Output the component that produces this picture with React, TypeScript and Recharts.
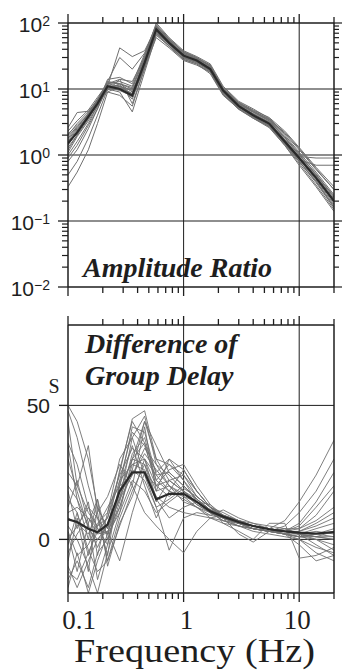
import { LineChart, Line, XAxis, YAxis, ReferenceLine } from "recharts";

// frequency samples (Hz)
const FREQ = [0.1, 0.12, 0.15, 0.18, 0.22, 0.28, 0.36, 0.46, 0.58, 0.75, 1.0, 1.3, 1.7, 2.2, 3, 4, 5.5, 7.5, 10, 14, 20];

// amplitude ratio: average + individual events
const AMP_MEAN = [1.5, 2.2, 3.8, 6, 11, 10, 8, 25, 80, 50, 32, 27, 20, 9.5, 5.5, 4, 3, 1.6, 0.9, 0.45, 0.2];
const AMP_RUNS = [
  [0.33, 0.55, 1.2, 3.0, 9, 11, 7, 22, 75, 48, 30, 26, 19, 8.5, 5, 3.8, 2.8, 1.5, 0.8, 0.4, 0.17],
  [0.5, 0.8, 1.8, 4, 10, 12, 9, 28, 90, 55, 34, 29, 22, 10, 6, 4.5, 3.3, 1.8, 1.0, 0.5, 0.22],
  [0.8, 1.2, 2.5, 5, 12, 14, 6, 20, 70, 45, 28, 24, 17, 8, 5, 3.6, 2.6, 1.4, 0.75, 0.35, 0.15],
  [1.0, 1.6, 3.0, 5.5, 11, 42, 31, 38, 85, 52, 33, 27, 21, 9.5, 5.8, 4.2, 3.2, 1.7, 0.95, 0.9, 0.9],
  [1.2, 2.0, 4.4, 6.5, 13, 30, 20, 35, 95, 58, 36, 30, 23, 10, 6.2, 4.6, 3.5, 2.0, 1.1, 0.55, 0.25],
  [1.4, 2.3, 3.6, 6, 10, 9, 4.5, 18, 65, 45, 29, 25, 19, 8.8, 5.3, 3.9, 2.9, 1.5, 0.85, 0.7, 0.7],
  [1.6, 2.4, 4, 6.5, 12, 11, 8.5, 26, 85, 50, 31, 28, 20, 9, 5.5, 4.2, 3.1, 1.7, 0.9, 0.45, 0.19],
  [1.8, 2.6, 4.2, 7, 13, 12, 10, 30, 100, 60, 38, 31, 24, 11, 6.5, 5, 3.6, 2.1, 1.2, 0.6, 0.3],
  [2.0, 3.0, 4.5, 7, 11, 10, 7.5, 24, 78, 48, 30, 26, 20, 9, 5.4, 4, 3, 1.6, 0.85, 0.42, 0.18],
  [2.3, 3.3, 4.8, 7.5, 12, 13, 11, 32, 88, 54, 35, 28, 21, 10, 6, 4.5, 3.4, 1.9, 1.05, 0.5, 0.24],
  [2.6, 4.4, 4.6, 6.5, 9, 8, 5.5, 21, 60, 42, 27, 23, 18, 8.2, 4.9, 3.6, 2.7, 1.4, 0.7, 0.33, 0.14],
  [1.3, 2.0, 3.5, 6, 14, 15, 12, 34, 92, 56, 37, 30, 22, 10.5, 6.3, 4.8, 3.7, 2.3, 1.3, 0.65, 0.33],
  [1.5, 2.1, 3.7, 5.8, 10.5, 9.5, 7.8, 24, 82, 49, 31, 26, 19.5, 8.8, 5.3, 3.9, 2.9, 1.55, 0.88, 0.44, 0.2],
  [1.7, 2.5, 3.9, 6.2, 11.5, 10.5, 8.5, 27, 76, 51, 33, 28, 21, 9.4, 5.7, 4.2, 3.1, 1.7, 0.95, 0.48, 0.21],
  [1.1, 1.9, 3.3, 5.5, 10, 11, 9.5, 23, 72, 47, 30, 25, 18.5, 8.3, 5.1, 3.7, 2.8, 1.45, 0.8, 0.4, 0.16],
  [2.1, 2.8, 4.2, 6.8, 12.5, 12, 10.5, 29, 86, 53, 34, 29, 22, 9.8, 5.9, 4.4, 3.3, 1.85, 1.0, 0.52, 0.23],
  [1.9, 2.7, 4.1, 6.6, 9.5, 14, 13, 30, 88, 57, 36, 29, 23, 10.2, 6.1, 4.7, 3.5, 2.2, 1.25, 0.62, 0.3],
  [0.9, 1.4, 2.8, 5, 10.5, 11.5, 8, 21, 68, 44, 28, 24, 18, 8.4, 5.0, 3.7, 2.7, 1.5, 0.8, 0.38, 0.16],
];

// difference of group delay (s): average + individual events
const GD_MEAN = [7.5, 6.5, 4, 2.7, 5.5, 18, 25, 25, 15, 17, 17, 14, 10.5, 8.5, 6.5, 5, 3.8, 3, 2.5, 2.2, 2.7];
const GD_RUNS = [
  [48, 38, 20, 8, 2, 10, 30, 44, 30, 22, 18, 14, 10, 8, 6, 5, 4, 3, 2, 2, 3],
  [50, 44, 30, 12, 4, 15, 38, 46, 28, 20, 17, 13, 10, 8, 6, 5, 4, 7, 14, 24, 37],
  [36, 28, 12, 4, -2, 20, 42, 40, 24, 25, 20, 15, 11, 9, 7, 5, 4, 2, 1, 1, 1],
  [-12, -15, -5, 3, 8, 25, 45, 48, 30, 28, 22, 16, 12, 9, 6, 4, 3, 5, 10, 18, 30],
  [-15, -8, -18, -5, 0, 12, 28, 30, 20, 26, 28, 20, 13, 8, 5, 4, 3, 2, 0, -5, -8],
  [5, 0, -10, -20, -5, 10, 22, 18, 10, 14, 18, 15, 11, 8, 6, 5, 4, 3, 6, 14, 25],
  [10, 12, 8, 2, 3, -8, 10, 25, 20, 22, 24, 18, 12, 6, 3, 0, 6, 6, -7, -6, -3],
  [20, 15, 5, -3, 6, 18, 30, 36, 25, 30, 26, 18, 12, 9, 7, 6, 5, 4, 4, 9, 18],
  [0, 5, 12, 8, -6, 22, 40, 35, 22, 18, 15, 12, 9, 11, 8, 6, 4, 2, -2, -8, -6],
  [8, 6, 2, 10, 16, 28, 20, 10, 5, 0, -5, 3, 8, 9, 7, 5, 4, 3, 2, 3, 2],
  [3, -6, -2, 6, 10, 24, 34, 30, 15, 8, 12, 14, 10, 8, 6, 4, 3, 3, 4, 7, 12],
  [15, 10, -4, -12, -8, 5, 18, 28, 18, 20, 16, 12, 10, 7, 5, 4, 3, 2, 1, 0, -2],
  [-5, 2, 8, 4, 2, 16, 26, 22, 12, 15, 19, 16, 12, 8, 2, -1, 3, 4, 2, 1, 0],
  [25, 20, 10, 5, 8, 22, 28, 26, 16, 12, 10, 9, 8, 7, 6, 5, 4, 3, 3, 5, 8],
  [-10, -18, -8, 0, 5, 15, 24, 32, 26, 20, 14, 12, 8, 6, 5, 3, 2, 1, 0, -3, -5],
  [30, 18, 4, 0, 3, 12, 26, 44, 35, 25, 20, 15, 11, 8, 6, 4, 3, 2, 2, 1, 0],
  [44, 20, 35, 10, -8, 8, 20, 42, 18, 30, 22, 14, 10, 7, 5, 4, 3, 2, 1, 2, 4],
  [-18, -5, -20, -8, 2, 20, 35, 20, 8, 18, 26, 18, 12, 10, 7, 5, 3, 2, 3, 6, 10],
  [12, 22, 6, 15, 0, 14, 32, 38, 22, 28, 24, 16, 12, 8, 6, 5, 4, 3, 2, 0, -4],
  [-8, 8, -12, 12, 4, 26, 44, 36, 20, 16, 20, 15, 11, 9, 6, 4, 3, 4, 2, -2, -6],
  [35, 15, 0, 15, -10, 6, 16, 30, 24, 18, 16, 14, 13, 9, 7, 5, 4, 3, 5, 12, 20],
  [2, -12, 6, -15, -2, 18, 30, 28, 14, 22, 18, 13, 10, 8, 6, 5, 4, 3, 2, 1, 3],
  [18, 4, 14, -6, 10, 30, 38, 24, 12, -4, 8, 10, 9, 8, 6, 4, 3, 2, 1, 2, 1],
  [-2, 10, -6, 5, 12, 20, 24, 34, 28, 24, 18, 14, 11, 8, 6, 5, 4, 3, 2, 4, 6],
];

const X_TICKS = [0.1, 0.2, 0.3, 0.4, 0.5, 0.6, 0.7, 0.8, 0.9, 1, 2, 3, 4, 5, 6, 7, 8, 9, 10, 20];
const X_LABELS: Record<number, string> = { 0.1: "0.1", 1: "1", 10: "10" };
const AMP_DECADES = [0.01, 0.1, 1, 10, 100];
const AMP_EXP: Record<number, string> = { 0.01: "\u22122", 0.1: "\u22121", 1: "0", 10: "1", 100: "2" };
const GD_TICKS = [0, 50];

const INK = "#1e1e1e";
const GRAY = "#707070";
const SERIF = "'Liberation Serif', 'Times New Roman', serif";
const SANS = "'Liberation Sans', Arial, sans-serif";

const ampTicks: number[] = [];
AMP_DECADES.slice(0, -1).forEach((d) => {
  for (let k = 1; k <= 9; k++) ampTicks.push(+(d * k).toPrecision(3));
});
ampTicks.push(100);

const isDecade = (v: number) => Math.abs(Math.log10(v) - Math.round(Math.log10(v))) < 1e-6;

function buildRows(mean: number[], runs: number[][]) {
  return FREQ.map((f, i) => {
    const row: Record<string, number> = { f, mean: mean[i] };
    runs.forEach((r, j) => {
      row[`r${j}`] = r[i];
    });
    return row;
  });
}

const ampRows = buildRows(AMP_MEAN, AMP_RUNS);
const gdRows = buildRows(GD_MEAN, GD_RUNS);

// tick renderers (tickSize 0 so x/y sit on the frame)
const xMajor = (v: number) => v === 0.1 || v === 1 || v === 10;

function TopTick(props: any) {
  const { x, y, payload } = props;
  const l = xMajor(payload.value) ? 9 : 6;
  return <line x1={x} x2={x} y1={y} y2={y - l} stroke={INK} strokeWidth={1.3} />;
}

function BottomTick(props: any) {
  const { x, y, payload } = props;
  const l = xMajor(payload.value) ? 9 : 6;
  return <line x1={x} x2={x} y1={y} y2={y + l} stroke={INK} strokeWidth={1.3} />;
}

const LABEL_DX: Record<number, number> = { 0.1: 11, 1: 3, 10: -2 };

function BottomTickLabeled(props: any) {
  const { x, y, payload } = props;
  const v = payload.value;
  const l = xMajor(v) ? 9 : 6;
  return (
    <g>
      <line x1={x} x2={x} y1={y} y2={y + l} stroke={INK} strokeWidth={1.3} />
      {X_LABELS[v] && (
        <text x={x + (LABEL_DX[v] ?? 0)} y={y + 36} textAnchor="middle" fontFamily={SERIF} fontSize={27} fill={INK}>
          {X_LABELS[v]}
        </text>
      )}
    </g>
  );
}

function AmpLeftTick(props: any) {
  const { x, y, payload } = props;
  const v = payload.value;
  if (!isDecade(v)) return <line x1={x} x2={x - 6} y1={y} y2={y} stroke={INK} strokeWidth={1.2} />;
  return (
    <g>
      <line x1={x} x2={x - 10} y1={y} y2={y} stroke={INK} strokeWidth={1.3} />
      <text x={50} y={y + 9} textAnchor="end" fontFamily={SANS} fontSize={21} fill={INK}>
        10
        <tspan dy={-6} fontSize={14}>{AMP_EXP[+v.toPrecision(3)]}</tspan>
      </text>
    </g>
  );
}

function AmpRightTick(props: any) {
  const { x, y, payload } = props;
  const l = isDecade(payload.value) ? 8 : 5;
  return <line x1={x} x2={x + l} y1={y} y2={y} stroke={INK} strokeWidth={1.2} />;
}

function GdLeftTick(props: any) {
  const { x, y, payload } = props;
  return (
    <g>
      <line x1={x} x2={x - 9} y1={y} y2={y} stroke={INK} strokeWidth={1.3} />
      <text x={50} y={y + 8} textAnchor="end" fontFamily={SANS} fontSize={21} fill={INK}>
        {payload.value}
      </text>
    </g>
  );
}

const frame = { stroke: INK, strokeWidth: 1.5 };

export default function App() {
  const ampLines = AMP_RUNS.map((_, j) => (
    <Line key={`a${j}`} xAxisId="b" yAxisId="l" dataKey={`r${j}`} stroke={GRAY} strokeWidth={1} dot={false} isAnimationActive={false} />
  ));
  const gdLines = GD_RUNS.map((_, j) => (
    <Line key={`g${j}`} xAxisId="b" yAxisId="l" dataKey={`r${j}`} stroke={GRAY} strokeWidth={0.9} dot={false} isAnimationActive={false} />
  ));

  return (
    <div style={{ position: "absolute", left: 0, top: 0, width: 342, height: 671, background: "#fff" }}>
      <LineChart width={342} height={310} data={ampRows} margin={{ top: 0, right: 0, bottom: 0, left: 0 }}>
        <XAxis xAxisId="t" orientation="top" dataKey="f" type="number" scale="log" domain={[0.1, 20]} allowDataOverflow
          ticks={X_TICKS} interval={0} height={23} tickSize={0} tickMargin={0} tickLine={false} axisLine={frame} tick={<TopTick />} />
        <XAxis xAxisId="b" orientation="bottom" dataKey="f" type="number" scale="log" domain={[0.1, 20]} allowDataOverflow
          ticks={X_TICKS} interval={0} height={23} tickSize={0} tickMargin={0} tickLine={false} axisLine={frame} tick={<BottomTick />} />
        <YAxis yAxisId="l" orientation="left" type="number" scale="log" domain={[0.01, 100]} allowDataOverflow
          ticks={ampTicks} interval={0} width={68} tickSize={0} tickMargin={0} tickLine={false} axisLine={frame} tick={<AmpLeftTick />} />
        <YAxis yAxisId="r" orientation="right" type="number" scale="log" domain={[0.01, 100]} allowDataOverflow
          ticks={ampTicks} interval={0} width={8} tickSize={0} tickMargin={0} tickLine={false} axisLine={frame} tick={<AmpRightTick />} />
        {[1, 10].map((v) => (
          <ReferenceLine key={`vx${v}`} xAxisId="b" yAxisId="l" x={v} stroke={INK} strokeWidth={1} />
        ))}
        {[0.1, 1, 10].map((v) => (
          <ReferenceLine key={`hy${v}`} xAxisId="b" yAxisId="l" y={v} stroke={INK} strokeWidth={1.2} />
        ))}
        {ampLines}
        <Line xAxisId="t" yAxisId="r" dataKey="mean" stroke="none" dot={false} isAnimationActive={false} />
        <Line xAxisId="b" yAxisId="l" dataKey="mean" stroke="#2a2a2a" strokeWidth={2.2} dot={false} isAnimationActive={false} />
      </LineChart>

      <LineChart width={342} height={361} data={gdRows} margin={{ top: 0, right: 0, bottom: 0, left: 0 }}>
        <XAxis xAxisId="t" orientation="top" dataKey="f" type="number" scale="log" domain={[0.1, 20]} allowDataOverflow
          ticks={X_TICKS} interval={0} height={15} tickSize={0} tickMargin={0} tickLine={false} axisLine={frame} tick={<TopTick />} />
        <XAxis xAxisId="b" orientation="bottom" dataKey="f" type="number" scale="log" domain={[0.1, 20]} allowDataOverflow
          ticks={X_TICKS} interval={0} height={78} tickSize={0} tickMargin={0} tickLine={false} axisLine={frame} tick={<BottomTickLabeled />} />
        <YAxis yAxisId="l" orientation="left" type="number" domain={[-20, 80]} allowDataOverflow
          ticks={GD_TICKS} interval={0} width={68} tickSize={0} tickMargin={0} tickLine={false} axisLine={frame} tick={<GdLeftTick />} />
        <YAxis yAxisId="r" orientation="right" type="number" domain={[-20, 80]} allowDataOverflow
          width={8} tickLine={false} tick={false} axisLine={frame} />
        {[1, 10].map((v) => (
          <ReferenceLine key={`gx${v}`} xAxisId="b" yAxisId="l" x={v} stroke={INK} strokeWidth={1} />
        ))}
        {GD_TICKS.map((v) => (
          <ReferenceLine key={`gy${v}`} xAxisId="b" yAxisId="l" y={v} stroke={INK} strokeWidth={1} />
        ))}
        {gdLines}
        <Line xAxisId="t" yAxisId="r" dataKey="mean" stroke="none" dot={false} isAnimationActive={false} />
        <Line xAxisId="b" yAxisId="l" dataKey="mean" stroke="#2a2a2a" strokeWidth={2.2} dot={false} isAnimationActive={false} />
      </LineChart>

      <svg width={342} height={671} style={{ position: "absolute", left: 0, top: 0, pointerEvents: "none" }}>
        <text x={83} y={277} fontFamily={SERIF} fontSize={28} fontStyle="italic" fontWeight="bold" fill={INK}>
          Amplitude Ratio
        </text>
        <text x={85} y={353} fontFamily={SERIF} fontSize={28} fontStyle="italic" fontWeight="bold" fill={INK}>
          Difference of
        </text>
        <text x={85} y={385} fontFamily={SERIF} fontSize={28} fontStyle="italic" fontWeight="bold" fill={INK}>
          Group Delay
        </text>
        <text x={54} y={393} textAnchor="middle" fontFamily={SERIF} fontSize={20} fill={INK}>
          S
        </text>
        <text x={74} y={662} fontFamily={SERIF} fontSize={33} textLength={241} lengthAdjust="spacingAndGlyphs" fill={INK}>
          Frequency (Hz)
        </text>
      </svg>
    </div>
  );
}
